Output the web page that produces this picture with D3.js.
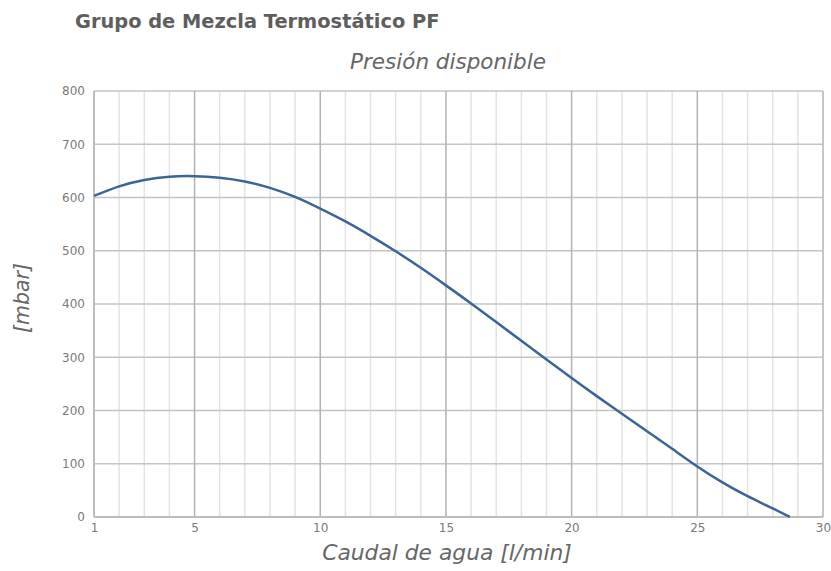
<!DOCTYPE html>
<html>
<head>
<meta charset="utf-8">
<script src="https://cdn.jsdelivr.net/npm/d3@7/dist/d3.min.js"></script>
<style>
  html, body { margin: 0; padding: 0; background: #fff; }
  svg { display: block; }
</style>
</head>
<body>
<svg id="chart" width="831" height="571"></svg>
<script>
// Pressure curve: available pressure vs water flow
const flow = [1, 2, 3, 4, 5, 6, 7, 8, 9, 10, 11, 12, 13, 14, 15, 16, 17, 18, 19, 20, 21, 22, 23, 24, 25, 26, 27, 28, 28.68];
const pressure = [603, 621, 633, 639, 640, 637, 630, 618, 601, 579, 555, 528, 499, 468, 435, 401, 366, 331, 296, 261, 227, 194, 161, 128, 95, 65, 39, 16, 0];

const xTicks = [1, 5, 10, 15, 20, 25, 30];
const xMinor = d3.range(1, 31);
const yTicks = [0, 100, 200, 300, 400, 500, 600, 700, 800];

const title = "Grupo de Mezcla Termostático PF";
const subtitle = "Presión disponible";
const xTitle = "Caudal de agua [l/min]";
const yTitle = "[mbar]";

const svg = d3.select("#chart");
const font = "'DejaVu Sans', 'Open Sans', sans-serif";

const m = { left: 94, right: 823, top: 91, bottom: 517 };
const x = d3.scaleLinear().domain([1, 30]).range([m.left, m.right]);
const y = d3.scaleLinear().domain([0, 800]).range([m.bottom, m.top]);

// minor vertical grid
svg.append("g").selectAll("line")
  .data(xMinor.filter(v => !xTicks.includes(v)))
  .join("line")
  .attr("x1", d => x(d)).attr("x2", d => x(d))
  .attr("y1", m.top).attr("y2", m.bottom)
  .attr("stroke", "#e3e3e3").attr("stroke-width", 1.5);

// horizontal grid
svg.append("g").selectAll("line")
  .data(yTicks)
  .join("line")
  .attr("x1", m.left).attr("x2", m.right)
  .attr("y1", d => y(d)).attr("y2", d => y(d))
  .attr("stroke", "#c4c4c4").attr("stroke-width", 1.5);

// major vertical grid
svg.append("g").selectAll("line")
  .data(xTicks)
  .join("line")
  .attr("x1", d => x(d)).attr("x2", d => x(d))
  .attr("y1", m.top).attr("y2", m.bottom)
  .attr("stroke", "#b3b3b3").attr("stroke-width", 1.5);

// axes frame lines
svg.append("line")
  .attr("x1", m.left).attr("x2", m.left).attr("y1", m.top).attr("y2", m.bottom)
  .attr("stroke", "#bdbdbd").attr("stroke-width", 2);
svg.append("line")
  .attr("x1", m.left).attr("x2", m.right).attr("y1", m.bottom).attr("y2", m.bottom)
  .attr("stroke", "#bdbdbd").attr("stroke-width", 2);

// Y axis labels
const yAxis = d3.axisLeft(y).tickValues(yTicks).tickSize(0).tickPadding(9);
svg.append("g").attr("transform", `translate(${m.left},0)`).call(yAxis)
  .call(g => g.select(".domain").remove())
  .selectAll("text")
  .attr("font-family", font).attr("font-size", 12).attr("fill", "#7a7a7a");

// X axis labels
const xAxis = d3.axisBottom(x).tickValues(xTicks).tickSize(0).tickPadding(6);
svg.append("g").attr("transform", `translate(0,${m.bottom})`).call(xAxis)
  .call(g => g.select(".domain").remove())
  .selectAll("text")
  .attr("font-family", font).attr("font-size", 12).attr("fill", "#7a7a7a");

// curve
const line = d3.line()
  .x((d, i) => x(flow[i]))
  .y(d => y(d))
  .curve(d3.curveNatural);
svg.append("path")
  .datum(pressure)
  .attr("d", line)
  .attr("fill", "none")
  .attr("stroke", "#3c6497")
  .attr("stroke-width", 2.5);

// titles
svg.append("text")
  .attr("x", 75).attr("y", 28)
  .attr("font-family", font).attr("font-weight", 700).attr("font-size", 19.4)
  .attr("fill", "#5e5e5e").text(title);

svg.append("text")
  .attr("x", 448).attr("y", 69).attr("text-anchor", "middle")
  .attr("font-family", font).attr("font-style", "italic").attr("font-size", 21.5)
  .attr("fill", "#666").text(subtitle);

svg.append("text")
  .attr("x", 447).attr("y", 560).attr("text-anchor", "middle")
  .attr("font-family", font).attr("font-style", "italic").attr("font-size", 21.8)
  .attr("fill", "#666").text(xTitle);

svg.append("text")
  .attr("transform", "translate(29,298) rotate(-90)").attr("text-anchor", "middle")
  .attr("font-family", font).attr("font-style", "italic").attr("font-size", 20.5)
  .attr("fill", "#666").text(yTitle);
</script>
</body>
</html>
